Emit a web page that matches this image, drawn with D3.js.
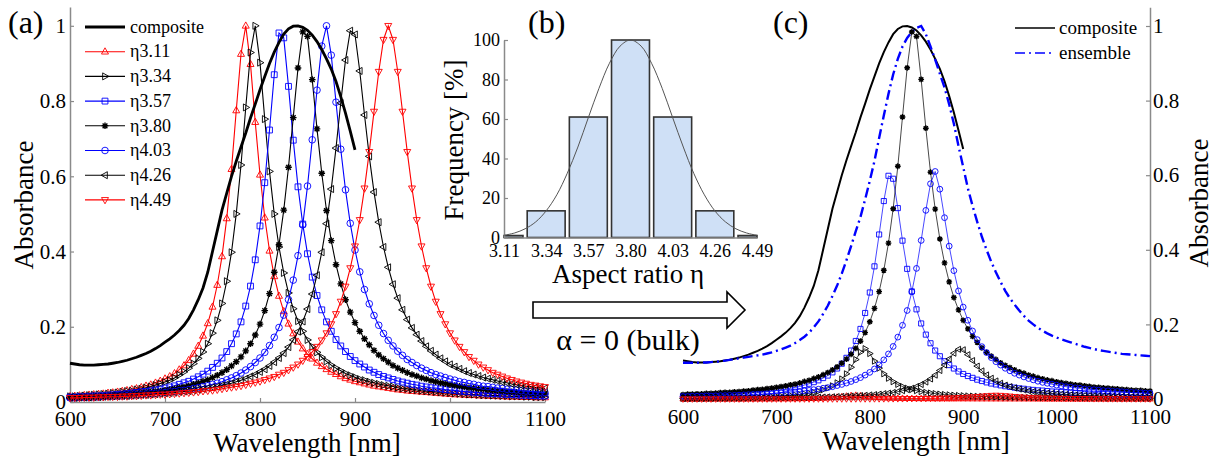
<!DOCTYPE html>
<html><head><meta charset="utf-8">
<script src="https://cdn.jsdelivr.net/npm/d3@7"></script>
<style>
body{margin:0;background:#fff;}
svg{display:block;}
svg text{font-family:"Liberation Serif","Times New Roman",Tinos,"DejaVu Serif","Noto Serif",serif !important;}
</style></head><body>
<svg id="chart" width="1226" height="461"></svg>
<script>
// ---------------- DATA ----------------
const wlStart = 600, wlStep = 5;   // sampling of the spectra (nm)
const eta311 = [0.015,0.016,0.017,0.018,0.019,0.020,0.021,0.022,0.024,0.025,
 0.027,0.029,0.031,0.034,0.036,0.039,0.043,0.046,0.051,0.056,
 0.062,0.068,0.076,0.086,0.097,0.111,0.128,0.149,0.176,0.209,
 0.253,0.311,0.387,0.488,0.619,0.775,0.925,1.0,0.898,0.744,
 0.604,0.49,0.402,0.334,0.282,0.241,0.208,0.182,0.16,0.142,
 0.127,0.115,0.104,0.095,0.087,0.08,0.074,0.068,0.063,0.059,
 0.055,0.052,0.049,0.046,0.043,0.041,0.039,0.037,0.035,0.033,
 0.032,0.030,0.029,0.028,0.027,0.026,0.025,0.024,0.023,0.022,
 0.021,0.020,0.020,0.019,0.018,0.018,0.017,0.017,0.016,0.016,
 0.015,0.015,0.014,0.014,0.014,0.013,0.013,0.013,0.012,0.012,0.012];
const eta334 = [0.015,0.015,0.016,0.017,0.018,0.019,0.020,0.021,0.022,0.024,
 0.025,0.027,0.029,0.030,0.033,0.035,0.038,0.041,0.045,0.049,
 0.053,0.058,0.064,0.072,0.080,0.090,0.102,0.116,0.133,0.155,
 0.183,0.217,0.262,0.321,0.398,0.5,0.630,0.783,0.929,1.0,
 0.902,0.752,0.613,0.5,0.412,0.343,0.29,0.248,0.215,0.188,
 0.165,0.147,0.132,0.119,0.108,0.098,0.090,0.083,0.076,0.071,
 0.066,0.061,0.058,0.054,0.051,0.048,0.045,0.043,0.041,0.038,
 0.036,0.035,0.033,0.032,0.030,0.029,0.028,0.027,0.026,0.025,
 0.024,0.023,0.022,0.021,0.020,0.020,0.019,0.018,0.018,0.017,
 0.017,0.016,0.016,0.015,0.015,0.015,0.014,0.014,0.013,0.013,0.013];
const eta357 = [0.013,0.013,0.014,0.014,0.015,0.016,0.016,0.017,0.018,0.019,
 0.020,0.021,0.022,0.024,0.025,0.027,0.028,0.030,0.032,0.034,
 0.037,0.040,0.043,0.047,0.051,0.055,0.061,0.067,0.074,0.082,
 0.092,0.103,0.117,0.134,0.155,0.181,0.213,0.255,0.308,0.378,
 0.468,0.583,0.723,0.870,0.981,0.968,0.839,0.696,0.572,0.473,
 0.394,0.332,0.283,0.245,0.213,0.188,0.166,0.149,0.134,0.121,
 0.110,0.101,0.093,0.085,0.079,0.073,0.068,0.064,0.060,0.056,
 0.053,0.050,0.047,0.045,0.042,0.040,0.038,0.037,0.035,0.033,
 0.032,0.031,0.029,0.028,0.027,0.026,0.025,0.024,0.023,0.022,
 0.022,0.021,0.020,0.020,0.019,0.018,0.018,0.017,0.017,0.016,0.016];
const eta380 = [0.012,0.013,0.013,0.014,0.014,0.015,0.015,0.016,0.017,0.018,
 0.018,0.019,0.020,0.021,0.022,0.024,0.025,0.026,0.028,0.029,
 0.031,0.033,0.035,0.038,0.040,0.043,0.047,0.050,0.055,0.059,
 0.065,0.071,0.078,0.086,0.096,0.107,0.120,0.136,0.155,0.178,
 0.207,0.243,0.288,0.345,0.418,0.510,0.624,0.756,0.888,0.984,
 0.972,0.857,0.726,0.608,0.509,0.429,0.365,0.314,0.272,0.239,
 0.211,0.188,0.168,0.152,0.137,0.125,0.115,0.106,0.097,0.090,
 0.084,0.078,0.073,0.069,0.064,0.061,0.057,0.054,0.051,0.049,
 0.046,0.044,0.042,0.040,0.038,0.037,0.035,0.034,0.032,0.031,
 0.030,0.029,0.028,0.027,0.026,0.025,0.024,0.023,0.023,0.022,0.021];
const eta403 = [0.011,0.011,0.012,0.012,0.012,0.013,0.013,0.014,0.015,0.015,
 0.016,0.016,0.017,0.018,0.019,0.020,0.021,0.022,0.023,0.024,
 0.025,0.027,0.028,0.030,0.031,0.033,0.036,0.038,0.041,0.043,
 0.047,0.050,0.054,0.059,0.064,0.070,0.077,0.085,0.094,0.105,
 0.117,0.132,0.150,0.172,0.198,0.231,0.272,0.324,0.389,0.471,
 0.574,0.697,0.829,0.946,1.0,0.922,0.797,0.672,0.564,0.475,
 0.404,0.346,0.299,0.261,0.230,0.204,0.182,0.164,0.149,0.135,
 0.124,0.113,0.105,0.097,0.090,0.084,0.078,0.073,0.069,0.065,
 0.061,0.058,0.054,0.052,0.049,0.047,0.044,0.042,0.041,0.039,
 0.037,0.036,0.034,0.033,0.032,0.030,0.029,0.028,0.027,0.026,0.025];
const eta426 = [0.011,0.011,0.012,0.012,0.012,0.013,0.013,0.014,0.014,0.015,
 0.015,0.016,0.016,0.017,0.018,0.019,0.019,0.020,0.021,0.022,
 0.023,0.024,0.025,0.027,0.028,0.029,0.031,0.033,0.035,0.037,
 0.039,0.041,0.044,0.047,0.050,0.054,0.058,0.062,0.068,0.073,
 0.080,0.087,0.096,0.106,0.117,0.130,0.146,0.165,0.187,0.214,
 0.247,0.287,0.337,0.398,0.474,0.566,0.675,0.795,0.909,0.987,
 0.977,0.880,0.763,0.653,0.558,0.478,0.412,0.358,0.313,0.276,
 0.245,0.219,0.197,0.179,0.162,0.148,0.136,0.126,0.116,0.108,
 0.100,0.094,0.088,0.082,0.077,0.073,0.069,0.065,0.062,0.059,
 0.056,0.053,0.051,0.048,0.046,0.044,0.042,0.041,0.039,0.038,0.036];
const eta449 = [0.011,0.011,0.011,0.012,0.012,0.012,0.013,0.013,0.014,0.014,
 0.014,0.015,0.015,0.016,0.016,0.017,0.018,0.018,0.019,0.020,
 0.020,0.021,0.022,0.023,0.024,0.025,0.026,0.027,0.029,0.030,
 0.031,0.033,0.035,0.037,0.039,0.041,0.043,0.046,0.049,0.052,
 0.055,0.059,0.063,0.067,0.073,0.078,0.085,0.092,0.100,0.110,
 0.120,0.133,0.147,0.164,0.183,0.207,0.234,0.267,0.307,0.356,
 0.414,0.484,0.568,0.665,0.772,0.878,0.963,1.0,0.963,0.878,
 0.772,0.665,0.568,0.484,0.414,0.356,0.307,0.267,0.234,0.207,
 0.183,0.164,0.147,0.133,0.120,0.110,0.100,0.092,0.085,0.078,
 0.073,0.068,0.063,0.059,0.055,0.052,0.049,0.046,0.044,0.042,0.040];
// composite spectrum, 600..900 nm
const composite = [0.103,0.101,0.099,0.098,0.098,0.098,0.099,0.100,0.101,0.103,
 0.105,0.108,0.111,0.115,0.119,0.124,0.129,0.135,0.142,0.150,
 0.159,0.168,0.178,0.190,0.204,0.222,0.245,0.272,0.303,0.345,
 0.40,0.455,0.51,0.555,0.6,0.64,0.678,0.715,0.755,0.792,
 0.83,0.865,0.9,0.93,0.956,0.978,0.992,0.999,1.0,0.996,
 0.988,0.975,0.958,0.937,0.912,0.885,0.852,0.812,0.768,0.72,0.67];
// ensemble spectrum, 600..1100 nm
const ensemble = [0.097,0.097,0.097,0.097,0.098,0.098,0.099,0.100,0.101,0.103,
 0.105,0.107,0.109,0.111,0.113,0.115,0.117,0.119,0.122,0.125,
 0.129,0.133,0.138,0.143,0.150,0.158,0.167,0.178,0.192,0.208,
 0.228,0.25,0.276,0.304,0.336,0.372,0.41,0.45,0.488,0.535,
 0.585,0.638,0.70,0.76,0.818,0.87,0.912,0.945,0.968,0.984,
 0.995,1.0,0.978,0.945,0.91,0.872,0.835,0.79,0.738,0.678,
 0.622,0.565,0.518,0.475,0.435,0.4,0.368,0.34,0.314,0.29,
 0.27,0.253,0.237,0.223,0.21,0.2,0.191,0.183,0.176,0.17,
 0.165,0.16,0.156,0.152,0.148,0.144,0.14,0.137,0.134,0.131,
 0.129,0.127,0.125,0.123,0.121,0.12,0.119,0.118,0.117,0.116,0.115];
// histogram (b)
const aspectLabels = ["3.11","3.34","3.57","3.80","4.03","4.26","4.49"];
const frequency = [1, 13.5, 61, 100, 61, 13.5, 1];
const fitEta = [3.11,3.168,3.225,3.283,3.34,3.398,3.455,3.513,3.57,3.628,3.685,3.743,3.80,
 3.858,3.915,3.973,4.03,4.088,4.145,4.203,4.26,4.318,4.375,4.433,4.49];
const fitFreq = [1.1,2.3,4.4,7.9,13.5,21.6,32.5,45.8,60.7,75.5,88.2,96.9,100,
 96.9,88.2,75.5,60.7,45.8,32.5,21.6,13.5,7.9,4.4,2.3,1.1];
const wlTicks = [600,700,800,900,1000,1100];
const absTicks = [0,0.2,0.4,0.6,0.8,1];
const freqTicks = [0,20,40,60,80,100];

const series = [
  {name:"η3.11", data:eta311, color:"#ff0000", marker:"triUp"},
  {name:"η3.34", data:eta334, color:"#000000", marker:"triRight"},
  {name:"η3.57", data:eta357, color:"#0000ff", marker:"square"},
  {name:"η3.80", data:eta380, color:"#000000", marker:"star"},
  {name:"η4.03", data:eta403, color:"#0000ff", marker:"circle"},
  {name:"η4.26", data:eta426, color:"#000000", marker:"triLeft"},
  {name:"η4.49", data:eta449, color:"#ff0000", marker:"triDown"}
];

// ---------------- DRAW ----------------
const svg = d3.select("#chart");
const AXIS = "#8a8a8a";
const wlOf = i => wlStart + i*wlStep;

function markerD(type, x, y, s){
  switch(type){
    case "triUp":   return `M${x},${y-s}L${x+s*0.9},${y+s*0.6}L${x-s*0.9},${y+s*0.6}Z`;
    case "triDown": return `M${x},${y+s}L${x+s*0.9},${y-s*0.6}L${x-s*0.9},${y-s*0.6}Z`;
    case "triRight":return `M${x+s},${y}L${x-s*0.6},${y-s*0.9}L${x-s*0.6},${y+s*0.9}Z`;
    case "triLeft": return `M${x-s},${y}L${x+s*0.6},${y-s*0.9}L${x+s*0.6},${y+s*0.9}Z`;
    case "square": { const q=s*0.75; return `M${x-q},${y-q}h${2*q}v${2*q}h${-2*q}Z`; }
    case "circle": { const r=s*0.85; return `M${x+r},${y}A${r},${r} 0 1,1 ${x-r},${y}A${r},${r} 0 1,1 ${x+r},${y}`; }
    case "star": { const a=s*0.85, b=a*0.72; return `M${x-a},${y}h${2*a}M${x},${y-a}v${2*a}M${x-b},${y-b}l${2*b},${2*b}M${x-b},${y+b}l${2*b},${-2*b}`; }
  }
}

function styleAxis(g, fs){
  g.attr("font-family", null);
  g.selectAll(".domain").attr("stroke", AXIS).attr("stroke-width", 1.5);
  g.selectAll(".tick line").attr("stroke", AXIS).attr("stroke-width", 1.2);
  g.selectAll(".tick text").attr("fill", "#000").attr("font-size", fs);
}

function drawSpectra(g, x, y, list, opts){
  const line = d3.line().x((d,i)=>x(wlOf(i))).y(d=>y(d));
  list.forEach(s=>{
    const vals = s.data.map(v=>v*s.w);
    g.append("path").attr("d", line(vals)).attr("fill","none")
      .attr("stroke", s.color).attr("stroke-width", opts.lw).attr("stroke-opacity", opts.lo);
    const md = vals.map((v,i)=>markerD(s.marker, x(wlOf(i)), y(v), opts.ms)).join("");
    g.append("path").attr("d", md).attr("fill", "none")
      .attr("stroke", s.color).attr("stroke-width", s.marker==="star" ? 1.4 : 0.9);
  });
}

// ===== Panel (a) =====
const xA = d3.scaleLinear().domain([600,1100]).range([70,545]);
const yA = d3.scaleLinear().domain([0,1.05]).range([402,7]);
const gA = svg.append("g");
gA.append("g").attr("transform","translate(0,402)")
  .call(d3.axisBottom(xA).tickValues(wlTicks).tickFormat(d3.format("d")).tickSizeInner(-4).tickSizeOuter(0).tickPadding(9))
  .call(g=>styleAxis(g,21));
gA.append("g").attr("transform","translate(70,0)")
  .call(d3.axisLeft(yA).tickValues(absTicks).tickFormat(d3.format("~g")).tickSizeInner(-4).tickSizeOuter(0).tickPadding(4))
  .call(g=>styleAxis(g,21));
drawSpectra(gA, xA, yA, series.map(s=>({...s, w:1})), {lw:1.1, lo:1, ms:3.9});
gA.append("path")
  .attr("d", d3.line().x((d,i)=>xA(wlOf(i))).y(d=>yA(d))(composite))
  .attr("fill","none").attr("stroke","#000").attr("stroke-width",2.8);
gA.append("text").attr("x",307).attr("y",452).attr("text-anchor","middle").attr("font-size",27).text("Wavelength [nm]");
gA.append("text").attr("transform","translate(33,205) rotate(-90)").attr("text-anchor","middle").attr("font-size",27).text("Absorbance");
gA.append("text").attr("x",8).attr("y",33).attr("font-size",32).text("(a)");

// legend (a)
const legA = gA.append("g");
const legRows = [{name:"composite", comp:true}].concat(series);
legRows.forEach((r,i)=>{
  const yy = 27 + i*24.7;
  if(r.comp){
    legA.append("line").attr("x1",85).attr("x2",125).attr("y1",yy).attr("y2",yy).attr("stroke","#000").attr("stroke-width",2.8);
  } else {
    legA.append("line").attr("x1",85).attr("x2",125).attr("y1",yy).attr("y2",yy).attr("stroke",r.color).attr("stroke-width",1.1);
    legA.append("path").attr("d", markerD(r.marker,105,yy,3.9)).attr("fill","none").attr("stroke",r.color)
      .attr("stroke-width", r.marker==="star" ? 1.4 : 0.9);
  }
  legA.append("text").attr("x",130).attr("y",yy).attr("dy","0.32em").attr("font-size",18).text(r.name);
});

// ===== Panel (b) =====
const xB = d3.scaleLinear().domain([3.11,4.49]).range([504,757]);
const yB = d3.scaleLinear().domain([0,100]).range([237.5,40]);
const gB = svg.append("g");
const halfW = 0.1035;
gB.selectAll("rect.bar").data(frequency).enter().append("rect")
  .attr("x",(d,i)=>xB(Math.max(+aspectLabels[i]-halfW,3.11)))
  .attr("width",(d,i)=>xB(Math.min(+aspectLabels[i]+halfW,4.49))-xB(Math.max(+aspectLabels[i]-halfW,3.11)))
  .attr("y",d=>yB(d)).attr("height",d=>yB(0)-yB(d))
  .attr("fill","#cfe0f6").attr("stroke","#333").attr("stroke-width",1.6);
gB.append("g").attr("transform","translate(0,237.5)")
  .call(d3.axisBottom(xB).tickValues(aspectLabels.map(Number)).tickFormat((d,i)=>aspectLabels[i]).tickSize(0).tickPadding(7))
  .call(g=>styleAxis(g,18));
gB.append("g").attr("transform","translate(504,0)")
  .call(d3.axisLeft(yB).tickValues(freqTicks).tickSizeInner(-4).tickSizeOuter(0).tickPadding(4))
  .call(g=>styleAxis(g,18));
gB.append("path")
  .attr("d", d3.line().curve(d3.curveCatmullRom).x((d,i)=>xB(fitEta[i])).y(d=>yB(d))(fitFreq))
  .attr("fill","none").attr("stroke","#555").attr("stroke-width",1);
gB.append("text").attr("x",628).attr("y",283).attr("text-anchor","middle").attr("font-size",27).text("Aspect ratio η");
gB.append("text").attr("transform","translate(463,140) rotate(-90)").attr("text-anchor","middle").attr("font-size",27).text("Frequency [%]");
gB.append("text").attr("x",528).attr("y",33).attr("font-size",32).text("(b)");
// arrow
gB.append("path").attr("d","M533,302H727V292L745,310L727,328V318H533Z")
  .attr("fill","#fff").attr("stroke","#000").attr("stroke-width",1.6);
gB.append("text").attr("x",628).attr("y",350).attr("text-anchor","middle").attr("font-size",30).text("α = 0 (bulk)");

// ===== Panel (c) =====
const xC = d3.scaleLinear().domain([600,1100]).range([683,1150]);
const yC = d3.scaleLinear().domain([0,1.05]).range([399,7.35]);
const gC = svg.append("g");
gC.append("g").attr("transform","translate(0,399)")
  .call(d3.axisBottom(xC).tickValues(wlTicks).tickFormat(d3.format("d")).tickSizeInner(-4).tickSizeOuter(0).tickPadding(10))
  .call(g=>styleAxis(g,21));
gC.append("g").attr("transform","translate(1150,0)")
  .call(d3.axisRight(yC).tickValues(absTicks).tickFormat(d3.format("~g")).tickSizeInner(-4).tickSizeOuter(0).tickPadding(3))
  .call(g=>styleAxis(g,21));
gC.append("path")
  .attr("d", d3.line().x((d,i)=>xC(wlOf(i))).y(d=>yC(d))(composite))
  .attr("fill","none").attr("stroke","#000").attr("stroke-width",2);
gC.append("path")
  .attr("d", d3.line().x((d,i)=>xC(wlOf(i))).y(d=>yC(d))(ensemble))
  .attr("fill","none").attr("stroke","#0000ff").attr("stroke-width",2.4).attr("stroke-dasharray","10,4,2,4");
const weights = frequency.map(f=>f/100);
drawSpectra(gC, xC, yC, series.map((s,i)=>({...s, w:weights[i]})), {lw:0.9, lo:0.8, ms:3.4});
gC.append("text").attr("x",916).attr("y",450).attr("text-anchor","middle").attr("font-size",27).text("Wavelength [nm]");
gC.append("text").attr("transform","translate(1208,203) rotate(-90)").attr("text-anchor","middle").attr("font-size",27).text("Absorbance");
gC.append("text").attr("x",773).attr("y",33).attr("font-size",32).text("(c)");
// legend (c)
const legC = gC.append("g");
legC.append("line").attr("x1",1015).attr("x2",1055).attr("y1",28).attr("y2",28).attr("stroke","#000").attr("stroke-width",1.6);
legC.append("text").attr("x",1059).attr("y",28).attr("dy","0.32em").attr("font-size",19).text("composite");
legC.append("line").attr("x1",1015).attr("x2",1055).attr("y1",53).attr("y2",53).attr("stroke","#0000ff").attr("stroke-width",1.6).attr("stroke-dasharray","10,4,2,4");
legC.append("text").attr("x",1059).attr("y",53).attr("dy","0.32em").attr("font-size",19).text("ensemble");
</script>
</body></html>
